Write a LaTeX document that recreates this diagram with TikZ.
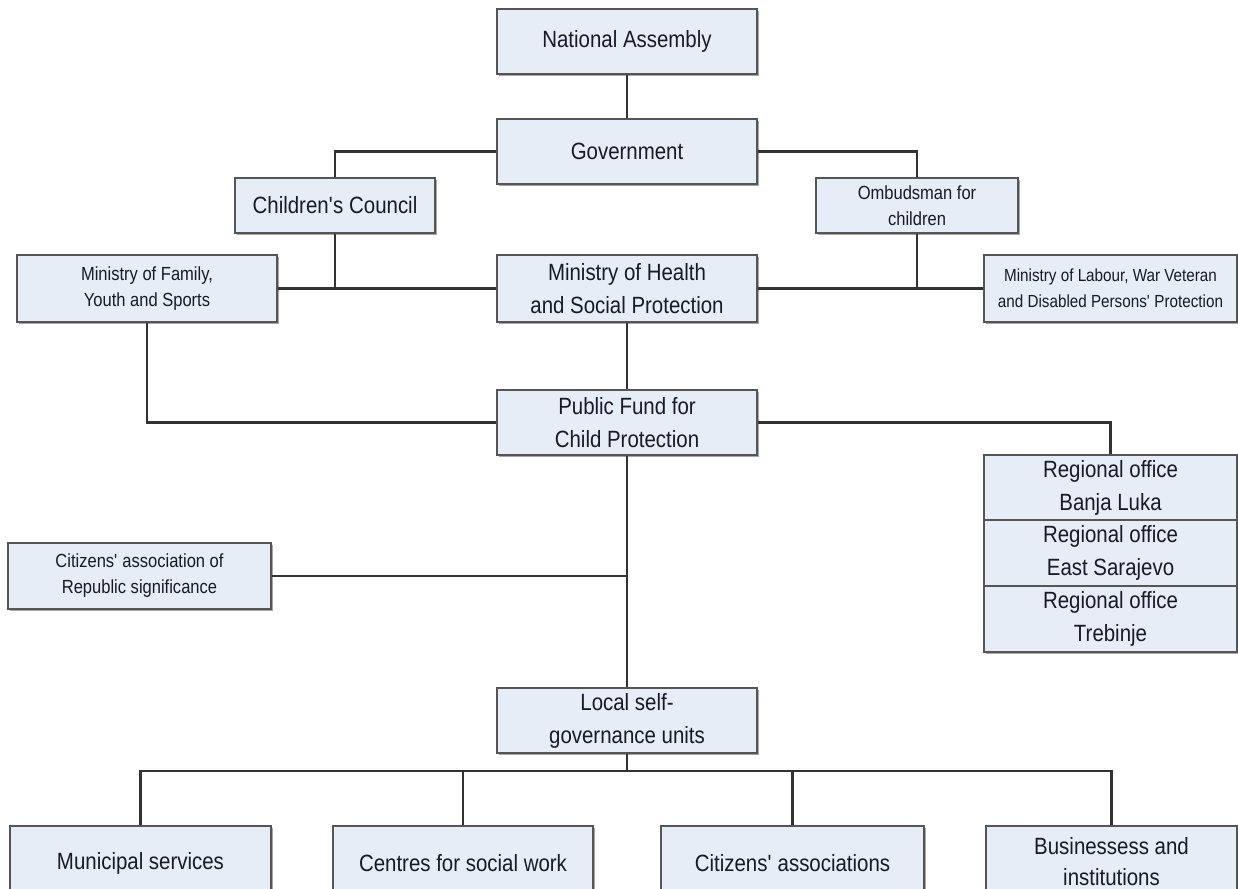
\documentclass[tikz,border=0pt]{standalone}
\usepackage{fontspec}
\setmainfont{Liberation Sans}[FakeStretch=0.87]
\usetikzlibrary{shadows}
\definecolor{boxfill}{RGB}{230,237,247}
\definecolor{boxline}{RGB}{85,85,85}
\definecolor{conn}{RGB}{50,50,50}
\definecolor{txt}{RGB}{25,25,40}
\newcommand{\apo}{\textquotesingle}
\tikzset{
  orgbox/.style={draw=boxline, line width=1.8pt, fill=boxfill, rectangle, inner sep=0pt,
    align=center, text=txt, font=\fontsize{23.5}{33}\selectfont,
    drop shadow={shadow xshift=1.6pt, shadow yshift=-1.6pt, opacity=0.35, fill=black}},
  smallbox/.style={orgbox, font=\fontsize{19}{26}\selectfont},
  tinybox/.style={orgbox, font=\fontsize{17.5}{26}\selectfont},
  link/.style={draw=conn, line width=2.2pt}
}
\begin{document}
\begin{tikzpicture}[x=1pt,y=-1pt]
\useasboundingbox (0,0) rectangle (1238,888);
\fill[white] (0,0) rectangle (1238,888);
\clip (0,0) rectangle (1238,888);

\coordinate (bus) at (627,771);

\node[orgbox, minimum width=260pt, minimum height=65pt] (NA) at (627,41.5) {National Assembly};
\node[orgbox, minimum width=260pt, minimum height=65pt] (Gov) at (627,151.5) {Government};
\node[orgbox, minimum width=200pt, minimum height=55pt] (CC) at (335,205.5) {Children\apo s Council};
\node[smallbox, minimum width=202pt, minimum height=55pt] (Omb) at (917,205.5) {Ombudsman for\\children};
\node[smallbox, minimum width=260pt, minimum height=67pt] (Fam) at (147,288.5) {Ministry of Family,\\Youth and Sports};
\node[orgbox, minimum width=260pt, minimum height=67pt] (Health) at (627,288.5) {Ministry of Health\\and Social Protection};
\node[tinybox, minimum width=253pt, minimum height=67pt] (Lab) at (1110.5,288.5) {Ministry of Labour, War Veteran\\and Disabled Persons\apo{} Protection};
\node[orgbox, minimum width=260pt, minimum height=65pt] (Fund) at (627,422.5) {Public Fund for\\Child Protection};
\node[orgbox, minimum width=253pt, minimum height=65pt] (Reg1) at (1110.5,487.5) {Regional office\\Banja Luka};
\node[orgbox, minimum width=253pt, minimum height=66pt] (Reg2) at (1110.5,553) {Regional office\\East Sarajevo};
\node[orgbox, minimum width=253pt, minimum height=66pt] (Reg3) at (1110.5,619) {Regional office\\Trebinje};
\node[smallbox, minimum width=263pt, minimum height=66pt] (Cit) at (139.5,576) {Citizens\apo{} association of\\Republic significance};
\node[orgbox, minimum width=260pt, minimum height=65pt] (Local) at (627,720.5) {Local self-\\governance units};
\node[orgbox, minimum width=261pt, minimum height=74pt] (Mun) at (140.5,863) {Municipal services};
\node[orgbox, minimum width=260pt, minimum height=74pt] (Cen) at (463,863) {Centres for social work};
\node[orgbox, minimum width=263pt, minimum height=74pt] (CitA) at (792.5,863) {Citizens\apo{} associations};
\node[orgbox, minimum width=251pt, minimum height=74pt, text depth=0pt] (Bus) at (1111.5,863) {\raisebox{3pt}{\shortstack{Businessess and\\[11pt]institutions}}};

\draw[link] (NA.south) -- (Gov.north);
\draw[link] (Gov.west) -| (CC.north);
\draw[link] (Gov.east) -| (Omb.north);
\draw[link] (Fam.east) -- (Health.west);
\draw[link] (CC.south) -- (CC.south |- Fam.east);
\draw[link] (Health.east) -- (Lab.west);
\draw[link] (Omb.south) -- (Omb.south |- Lab.west);
\draw[link] (Health.south) -- (Fund.north);
\draw[link] (Fam.south) |- (Fund.west);
\draw[link] (Fund.east) -| (Reg1.north);
\draw[link] (Fund.south) -- (Local.north);
\draw[link] (Cit.east) -- (Cit.east -| Fund.south);
\draw[link] (Local.south) -- (bus);
\draw[link] (Mun.north) -- (Mun.north |- bus) -- (Bus.north |- bus) -- (Bus.north);
\draw[link] (Cen.north) -- (Cen.north |- bus);
\draw[link] (CitA.north) -- (CitA.north |- bus);
\end{tikzpicture}
\end{document}
